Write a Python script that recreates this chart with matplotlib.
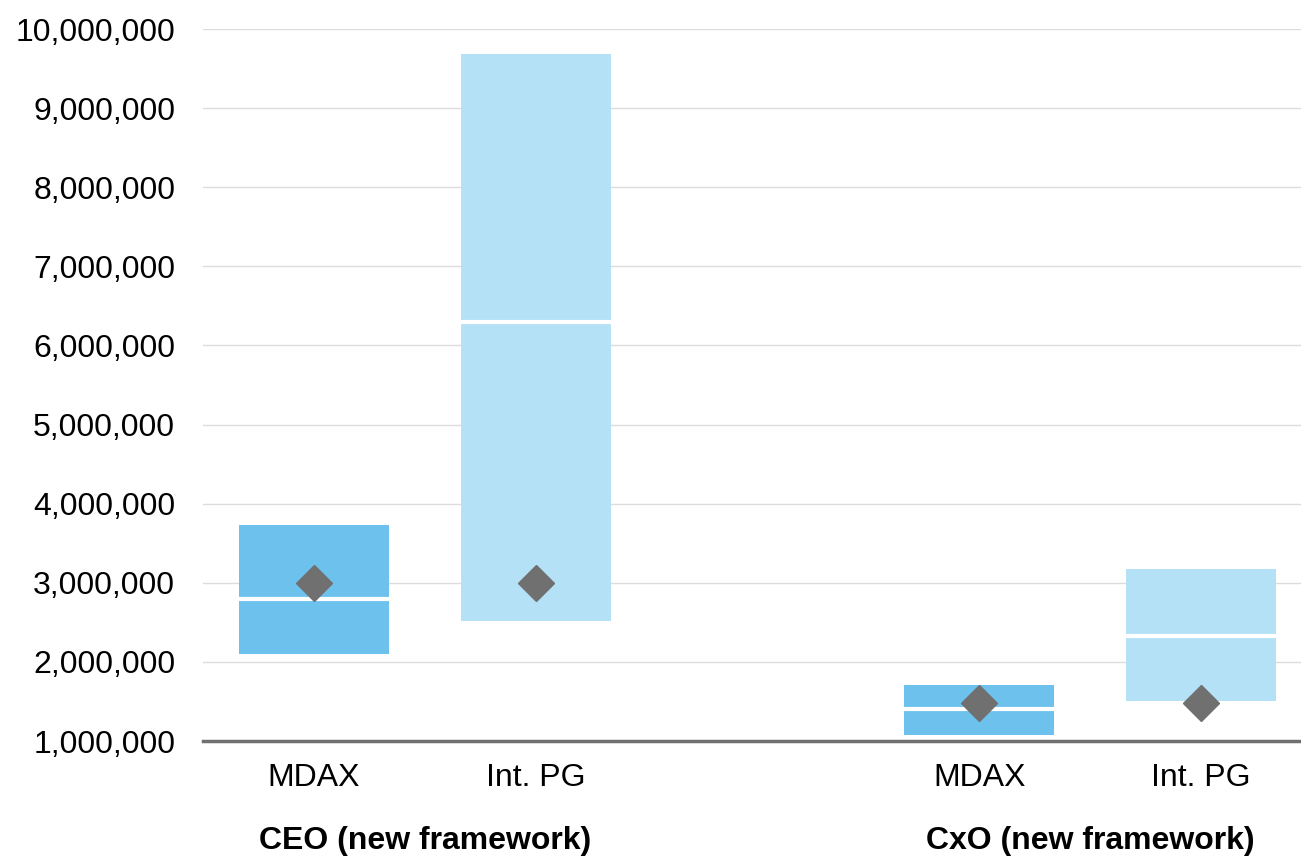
import numpy as np
import matplotlib.pyplot as plt
from matplotlib.ticker import FuncFormatter

plt.rcParams['font.family'] = ['Liberation Sans', 'DejaVu Sans']

# data (EUR)
labels = ['MDAX', 'Int. PG', 'MDAX', 'Int. PG']
groups = ['CEO (new framework)', 'CxO (new framework)']
low = [2100000, 2520000, 1080000, 1510000]
high = [3730000, 9680000, 1710000, 3170000]
median = [2800000, 6300000, 1400000, 2330000]
target = [3000000, 3000000, 1480000, 1480000]

colors = ['#6DC2ED', '#B4E1F5', '#6DC2ED', '#B4E1F5']
pos = np.array([0, 1, 3, 4])
width = 0.676

fig = plt.figure(figsize=(13.01, 8.56), dpi=100)
ax = fig.add_axes([0.156, 0.1343, 0.844, 0.8318])

ax.bar(pos, np.array(high) - np.array(low), bottom=low, width=width,
       color=colors, zorder=2)
ax.hlines(median, pos - width / 2, pos + width / 2, colors='white',
          linewidth=3, zorder=3)
ax.plot(pos, target, linestyle='none', marker='D', markersize=18,
        color='#707070', zorder=4)

ax.set_ylim(1000000, 10000000)
ax.set_xlim(-0.5, 4.45)
ax.set_yticks(np.arange(1000000, 10000001, 1000000))
ax.yaxis.set_major_formatter(FuncFormatter(lambda v, p: f'{int(v):,}'))
ax.grid(axis='y', color='#DCDCDC', linewidth=1, zorder=0)
ax.set_axisbelow(True)

for s in ['top', 'right', 'left']:
    ax.spines[s].set_visible(False)
ax.spines['bottom'].set_color('#707070')
ax.spines['bottom'].set_linewidth(2.5)
ax.spines['bottom'].set_zorder(5)

ax.tick_params(axis='y', length=0, labelsize=23, pad=20)
ax.tick_params(axis='x', length=0, labelsize=23, pad=16)
ax.set_xticks(pos)
ax.set_xticklabels(labels)

for i, g in enumerate(groups):
    xc = pos[2 * i:2 * i + 2].mean()
    ax.text(xc, -0.14, g, transform=ax.get_xaxis_transform(),
            ha='center', va='center', fontsize=23, fontweight='bold')

fig.savefig('out.png', dpi=100)
